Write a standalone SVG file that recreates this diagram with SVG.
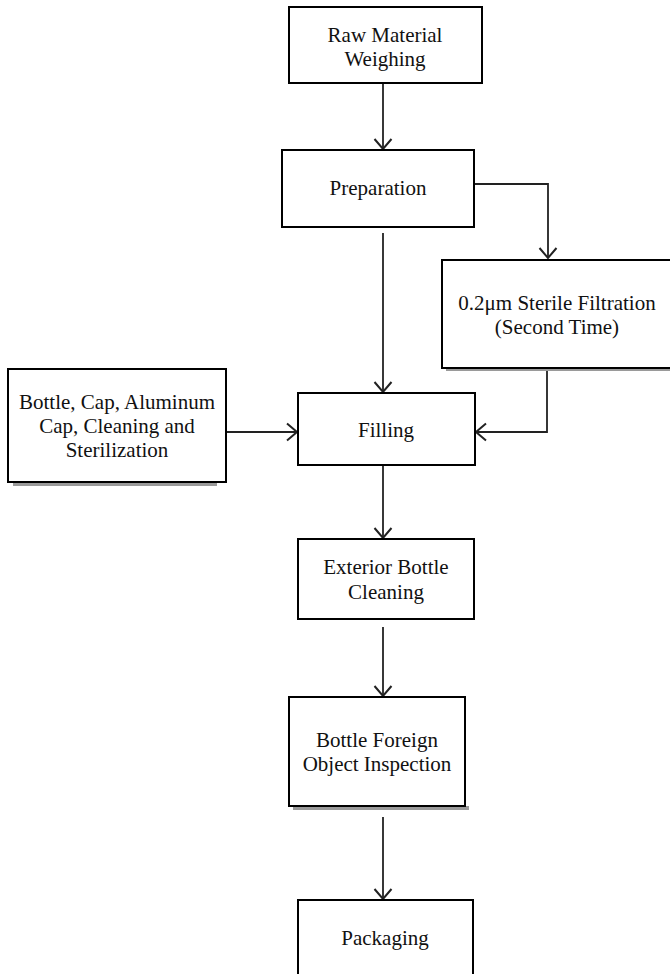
<svg xmlns="http://www.w3.org/2000/svg" width="670" height="974" viewBox="0 0 670 974">
<style>
.box{fill:#fff;stroke:#000;stroke-width:2}
.sh{fill:#9a9a9a}
.t{font-family:"Liberation Serif","Times New Roman",serif;font-size:21px;fill:#111;text-anchor:middle}
.c{fill:none;stroke:#222;stroke-width:1.8}
</style>
<defs>
<marker id="ah" markerUnits="userSpaceOnUse" markerWidth="24" markerHeight="24" viewBox="-12 -12 24 24" refX="0" refY="0" orient="auto">
<path d="M-10,-8.5 L0,0 L-10,8.5" fill="none" stroke="#222" stroke-width="2"/>
</marker>
</defs>
<rect width="670" height="974" fill="#fff"/>
<g id="connectors">
<path class="c" d="M383,83 L383,149" marker-end="url(#ah)"/>
<path class="c" d="M474,184 L548,184 L548,258" marker-end="url(#ah)"/>
<path class="c" d="M383,233 L383,392" marker-end="url(#ah)"/>
<path class="c" d="M226,432 L297,432" marker-end="url(#ah)"/>
<path class="c" d="M547,368 L547,432 L476,432" marker-end="url(#ah)"/>
<path class="c" d="M383,465 L383,538" marker-end="url(#ah)"/>
<path class="c" d="M383,627 L383,696" marker-end="url(#ah)"/>
<path class="c" d="M383,817 L383,899" marker-end="url(#ah)"/>
</g>
<g id="raw">
<rect class="box" x="289" y="7" width="193" height="76"/>
<text class="t" x="385" y="42">Raw Material</text>
<text class="t" x="385" y="66">Weighing</text>
</g>
<g id="prep">
<rect class="box" x="282" y="150" width="192" height="77"/>
<text class="t" x="378" y="195">Preparation</text>
</g>
<g id="filtration">
<rect class="sh" x="446" y="368" width="226" height="3"/>
<rect class="box" x="442" y="260" width="230" height="108"/>
<text class="t" x="557" y="310">0.2μm Sterile Filtration</text>
<text class="t" x="557" y="334">(Second Time)</text>
</g>
<g id="bottle">
<rect class="sh" x="13" y="482" width="204" height="4"/>
<rect class="box" x="8" y="369" width="218" height="113"/>
<text class="t" x="117" y="409">Bottle, Cap, Aluminum</text>
<text class="t" x="117" y="433">Cap, Cleaning and</text>
<text class="t" x="117" y="457">Sterilization</text>
</g>
<g id="filling">
<rect class="box" x="298" y="393" width="177" height="72"/>
<text class="t" x="386" y="437">Filling</text>
</g>
<g id="exterior">
<rect class="box" x="298" y="539" width="176" height="80"/>
<text class="t" x="386" y="574">Exterior Bottle</text>
<text class="t" x="386" y="599">Cleaning</text>
</g>
<g id="inspection">
<rect class="sh" x="293" y="806" width="176" height="4"/>
<rect class="box" x="289" y="697" width="176" height="109"/>
<text class="t" x="377" y="747">Bottle Foreign</text>
<text class="t" x="377" y="771">Object Inspection</text>
</g>
<g id="packaging">
<rect class="box" x="298" y="900" width="175" height="80"/>
<text class="t" x="385" y="945">Packaging</text>
</g>
</svg>
